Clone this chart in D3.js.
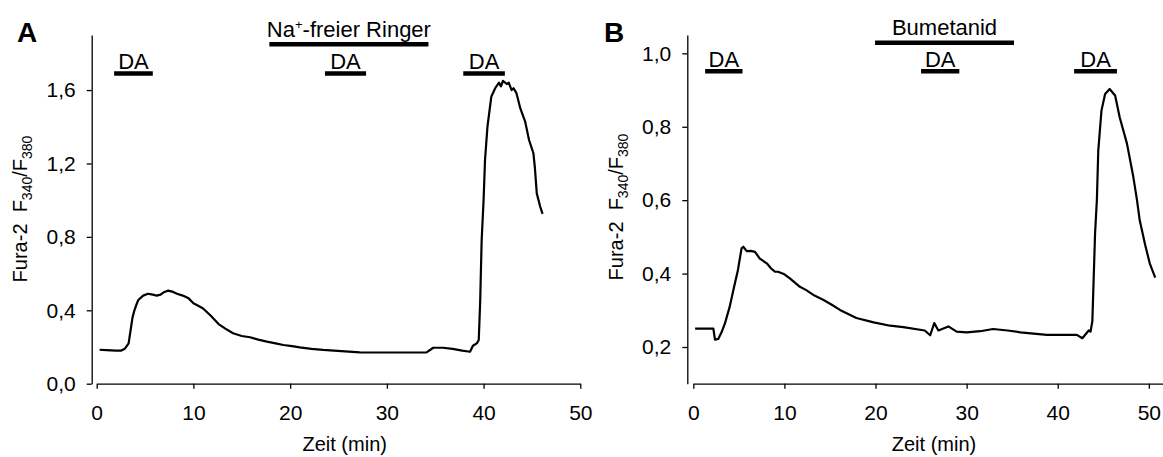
<!DOCTYPE html>
<html>
<head>
<meta charset="utf-8">
<script src="https://cdn.jsdelivr.net/npm/d3@7"></script>
<style>
body { margin: 0; background: #fff; }
svg text { font-family: "Liberation Sans", Arial, sans-serif; fill: #000; }
.axis path, .axis line { stroke: #000; stroke-width: 1.3px; }
.axis text { font-size: 21px; }
</style>
</head>
<body>
<svg id="chart" width="1163" height="457"></svg>
<script>
// Fura-2 ratio traces, [Zeit (min), F340/F380]
var traceA = [
    [0.3, 0.185], [1.0, 0.183], [2.0, 0.18], [2.5, 0.18], [2.9, 0.19], [3.3, 0.22],
    [3.5, 0.29], [3.7, 0.36], [3.9, 0.40], [4.1, 0.43], [4.3, 0.456], [4.8, 0.48], [5.3, 0.49],
    [5.8, 0.485], [6.2, 0.48], [6.6, 0.485], [7.0, 0.50], [7.4, 0.507], [7.9, 0.50],
    [8.3, 0.49], [8.9, 0.48], [9.5, 0.465], [10.0, 0.438], [10.5, 0.425], [11.0, 0.41],
    [11.8, 0.37], [12.6, 0.325], [13.3, 0.30], [14.1, 0.275], [15.0, 0.26], [15.85, 0.253],
    [16.7, 0.24], [17.6, 0.229], [18.5, 0.22], [19.3, 0.211], [20.2, 0.205], [21.0, 0.198],
    [22.2, 0.19], [23.4, 0.184], [25.3, 0.178], [27.2, 0.171], [29.5, 0.17], [32.0, 0.17],
    [34.1, 0.171], [34.5, 0.185], [34.8, 0.196], [35.8, 0.196], [36.8, 0.19], [37.8, 0.18],
    [38.6, 0.174], [38.9, 0.207], [39.3, 0.22], [39.5, 0.238], [39.65, 0.45], [39.8, 0.78],
    [40.0, 1.0], [40.15, 1.22], [40.4, 1.40], [40.8, 1.564], [41.2, 1.61], [41.6, 1.64],
    [41.8, 1.62], [42.0, 1.65], [42.4, 1.633], [42.6, 1.64], [42.9, 1.60], [43.1, 1.61],
    [43.4, 1.583], [43.8, 1.50], [44.3, 1.428], [44.7, 1.328], [45.15, 1.256], [45.3, 1.18],
    [45.5, 1.037], [45.85, 0.965], [46.1, 0.925]
];
var traceB = [
    [0.2, 0.25], [1.0, 0.25], [2.2, 0.25], [2.38, 0.22], [2.74, 0.222], [3.1, 0.24],
    [3.48, 0.265], [4.0, 0.31], [4.4, 0.355], [4.9, 0.41], [5.3, 0.469], [5.5, 0.473],
    [5.86, 0.461], [6.3, 0.462], [6.77, 0.459], [7.3, 0.441], [8.06, 0.428], [8.5, 0.415],
    [8.97, 0.405], [9.3, 0.405], [10.0, 0.398], [10.6, 0.387], [11.7, 0.364], [12.4, 0.355],
    [13.3, 0.34], [14.3, 0.328], [15.2, 0.315], [16.1, 0.301], [17.0, 0.29], [17.9, 0.279],
    [19.8, 0.267], [21.6, 0.258], [23.05, 0.254], [25.4, 0.245], [26.0, 0.232], [26.45, 0.265],
    [26.9, 0.245], [28.0, 0.256], [28.9, 0.242], [30.0, 0.24], [31.5, 0.243], [32.9, 0.249],
    [34.5, 0.245], [35.9, 0.24], [38.8, 0.233], [42.1, 0.233], [42.7, 0.224], [43.4, 0.245],
    [43.6, 0.242], [43.8, 0.27], [44.1, 0.51], [44.3, 0.602], [44.45, 0.735], [44.8, 0.844],
    [45.2, 0.889], [45.7, 0.903], [46.3, 0.885], [46.8, 0.826], [47.6, 0.754], [48.3, 0.663],
    [48.7, 0.6], [49.0, 0.545], [49.6, 0.478], [50.1, 0.428], [50.7, 0.389]
];

// application bars, [Beginn, Ende] in min
var daA = [[1.8, 5.8], [23.6, 27.85], [37.9, 42.2]];
var treatA = [17.85, 34.3];
var daB = [[1.3, 5.4], [25.0, 29.2], [41.8, 46.5]];
var treatB = [19.95, 35.2];

// tick values
var xTicks = [0, 10, 20, 30, 40, 50];
var yTicksA = [0, 0.4, 0.8, 1.2, 1.6];
var yTicksB = [0.2, 0.4, 0.6, 0.8, 1.0];

var de = d3.formatLocale({ decimal: ",", thousands: ".", grouping: [3], currency: ["", " €"] });
var fmt = de.format(".1f");

var svg = d3.select("#chart");
var axisY = 383.7;

function drawPanel(cfg) {
    var g = svg.append("g");

    var x = d3.scaleLinear().domain(cfg.xDomain).range([cfg.x0, cfg.x1]);
    var y = d3.scaleLinear().domain(cfg.yDomain).range([axisY, 35]);

    //Axes
    g.append("g")
        .attr("class", "axis")
        .attr("transform", "translate(0," + axisY + ")")
        .call(d3.axisBottom(x).tickValues(xTicks).tickSize(5).tickSizeOuter(0).tickPadding(16));

    g.append("g")
        .attr("class", "axis")
        .attr("transform", "translate(" + cfg.yAxisX + ",0)")
        .call(d3.axisLeft(y).tickValues(cfg.yTicks).tickFormat(fmt).tickSize(5).tickSizeOuter(0).tickPadding(11));

    //Trace
    var line = d3.line()
        .x(function (d) { return x(d[0]); })
        .y(function (d) { return y(d[1]); });

    g.append("path")
        .datum(cfg.trace)
        .attr("d", line)
        .attr("fill", "none")
        .attr("stroke", "#000")
        .attr("stroke-width", 2.2)
        .attr("stroke-linejoin", "round");

    //DA bars
    g.selectAll(".da")
        .data(cfg.da)
        .enter()
        .append("line")
        .attr("class", "da")
        .attr("x1", function (d) { return x(d[0]); })
        .attr("x2", function (d) { return x(d[1]); })
        .attr("y1", cfg.daY)
        .attr("y2", cfg.daY)
        .attr("stroke", "#000")
        .attr("stroke-width", 4.5);

    g.selectAll(".dalabel")
        .data(cfg.da)
        .enter()
        .append("text")
        .attr("class", "dalabel")
        .attr("x", function (d) { return (x(d[0]) + x(d[1])) / 2; })
        .attr("y", cfg.daY - 4.5)
        .attr("text-anchor", "middle")
        .attr("font-size", 22)
        .text("DA");

    //treatment bar
    g.append("line")
        .attr("x1", x(cfg.treat[0]))
        .attr("x2", x(cfg.treat[1]))
        .attr("y1", cfg.trY)
        .attr("y2", cfg.trY)
        .attr("stroke", "#000")
        .attr("stroke-width", 4.5);

    var tl = g.append("text")
        .attr("x", (x(cfg.treat[0]) + x(cfg.treat[1])) / 2)
        .attr("y", cfg.trY - 7.5)
        .attr("text-anchor", "middle")
        .attr("font-size", 22);
    if (cfg.sup) {
        tl.append("tspan").text("Na");
        tl.append("tspan").attr("font-size", 13).attr("dy", -8).text("+");
        tl.append("tspan").attr("dy", 8).text("-freier Ringer");
    } else {
        tl.text(cfg.treatLabel);
    }

    //axis titles
    g.append("text")
        .attr("x", cfg.xLabelX)
        .attr("y", 451)
        .attr("text-anchor", "middle")
        .attr("font-size", 20)
        .text("Zeit (min)");

    var yl = g.append("text")
        .attr("transform", "translate(" + cfg.labelX + "," + cfg.labelY + ") rotate(-90)")
        .attr("text-anchor", "middle")
        .attr("font-size", 20);
    yl.append("tspan").text("Fura-2\u00a0\u00a0F");
    yl.append("tspan").attr("font-size", 14).attr("dy", 5).text("340");
    yl.append("tspan").attr("dy", -5).text("/F");
    yl.append("tspan").attr("font-size", 14).attr("dy", 5).text("380");

    //panel letter
    g.append("text")
        .attr("x", cfg.letterX)
        .attr("y", 42)
        .attr("font-size", 28)
        .attr("font-weight", "bold")
        .text(cfg.letter);
}

drawPanel({
    letter: "A", letterX: 17,
    trace: traceA, da: daA, treat: treatA, sup: true,
    xDomain: [0, 50], x0: 96.7, x1: 580.3,
    yDomain: [0, 1.9], yTicks: yTicksA, yAxisX: 91.7,
    daY: 73.5, trY: 44.3,
    labelX: 27, labelY: 209, xLabelX: 344.7
});

drawPanel({
    letter: "B", letterX: 604,
    trace: traceB, da: daB, treat: treatB, treatLabel: "Bumetanid",
    xDomain: [0, 51.5], x0: 693.3, x1: 1162.5,
    yDomain: [0.1, 1.05], yTicks: yTicksB, yAxisX: 687.3,
    daY: 71.2, trY: 42.7,
    labelX: 623, labelY: 207, xLabelX: 934
});
</script>
</body>
</html>
